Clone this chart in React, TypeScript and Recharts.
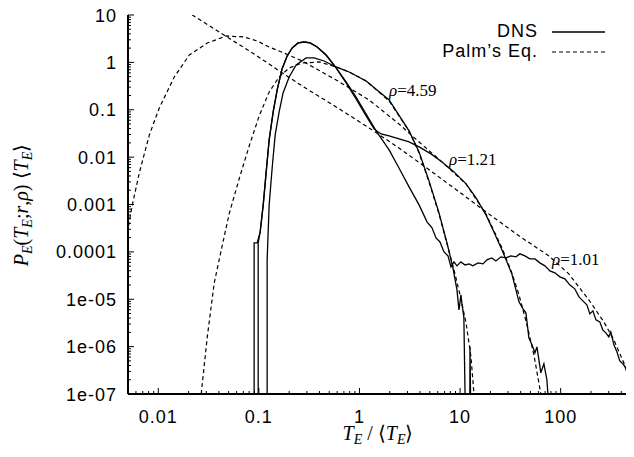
import React from 'react';
import { LineChart, Line, XAxis, YAxis, ReferenceDot } from 'recharts';

type Pt = [number, number | null];

// DNS curves (solid) as [T/<T>, P*<T>]
const dns101: Pt[] = [
  [0.0897, 1e-7], [0.0897, 1.55e-4], [0.0962, 1.55e-4], [0.103, 2.64e-4], [0.1104, 9.8e-4],
  [0.1182, 0.00488], [0.1265, 0.0231], [0.1387, 0.0899], [0.152, 0.262], [0.17, 0.726],
  [0.191, 1.365], [0.2143, 2.01], [0.2455, 2.57], [0.2818, 2.69], [0.3231, 2.57],
  [0.3793, 2.11], [0.466, 1.43], [0.586, 0.762], [0.736, 0.386], [0.925, 0.186],
  [1.164, 0.0815], [1.463, 0.0357], [1.97, 0.0142], [2.47, 0.00591], [3.11, 0.00235],
  [3.91, 9.8e-4], [4.69, 4.3e-4], [5.26, 3.21e-4], [5.76, 1.97e-4], [6.31, 1.62e-4],
  [6.92, 1.0e-4], [7.58, 8.24e-5], [8.12, 4.83e-5], [8.7, 6.15e-5], [9.31, 5.07e-5],
  [10.2, 6.15e-5], [11.2, 5.3e-5], [12.3, 5.59e-5], [13.4, 5.07e-5], [15.1, 5.86e-5],
  [16.9, 5.59e-5], [18.5, 6.77e-5], [20.7, 7.46e-5], [22.7, 6.45e-5], [25.5, 7.85e-5],
  [28.6, 7.46e-5], [32.0, 8.24e-5], [35.9, 7.85e-5], [39.3, 9.08e-5], [44.1, 8.24e-5],
  [49.4, 7.11e-5], [55.5, 7.11e-5], [62.1, 5.86e-5], [69.7, 5.07e-5], [78.2, 3.97e-5],
  [87.5, 3.61e-5], [98.2, 2.97e-5], [110, 2.69e-5], [123, 2.01e-5], [138, 1.66e-5],
  [152, 1.12e-5], [166, 9.25e-6], [182, 7.6e-6], [195, 4.92e-6], [209, 5.69e-6],
  [224, 3.67e-6], [245, 3.33e-6], [262, 2.26e-6], [281, 1.95e-6], [301, 1.61e-6],
  [315, 2.05e-6], [338, 1.09e-6], [362, 7.76e-7], [387, 5.01e-7], [415, 4.34e-7],
  [445, 3.57e-7], [476, 2.31e-7], [510, 1.56e-7],
];

const dns121: Pt[] = [
  [0.0984, 1e-7], [0.0984, 1.55e-4], [0.103, 2.64e-4], [0.1104, 9.8e-4], [0.1182, 0.00488],
  [0.1265, 0.0231], [0.1387, 0.0899], [0.152, 0.262], [0.17, 0.726], [0.191, 1.365],
  [0.2143, 2.01], [0.2455, 2.57], [0.2818, 2.69], [0.3231, 2.57], [0.3793, 2.11],
  [0.466, 1.43], [0.586, 0.762], [0.736, 0.367], [0.925, 0.169], [1.164, 0.074],
  [1.397, 0.0394], [1.64, 0.0308], [1.97, 0.028], [2.47, 0.0242], [3.11, 0.0209],
  [3.91, 0.0164], [5.14, 0.0117], [6.61, 0.00793], [8.7, 0.00488], [11.46, 0.00272],
  [14.4, 0.00138], [18.1, 6.04e-4], [21.7, 2.64e-4], [26.1, 1.1e-4], [29.2, 6.15e-5],
  [32.7, 3.44e-5], [35.9, 1.58e-5], [38.5, 8.81e-6], [42.2, 6.27e-6], [45.1, 5.16e-6],
  [48.3, 1.53e-6], [51.8, 1.09e-6], [55.5, 7.4e-7], [58.1, 9.9e-7], [63.5, 2.8e-7],
  [68.1, 4.34e-7], [72.9, 2.0e-7], [74.6, 1e-7],
];

const dns459: Pt[] = [
  [0.1208, 1e-7], [0.1208, 6.77e-5], [0.1265, 9.8e-4], [0.1355, 0.00591], [0.1452, 0.0294],
  [0.159, 0.0899], [0.174, 0.226], [0.2, 0.492], [0.2345, 0.881], [0.295, 1.24],
  [0.354, 1.24], [0.445, 1.07], [0.586, 0.8], [0.789, 0.627], [1.164, 0.405],
  [1.97, 0.161], [3.11, 0.0357], [3.91, 0.0129], [4.91, 0.00315], [6.17, 6.65e-4],
  [7.41, 1.55e-4], [8.49, 4.59e-5], [9.31, 1.58e-5], [9.75, 5.97e-6], [10.2, 1.24e-5],
  [10.4, 8.4e-6], [10.9, 4.26e-6], [11.2, 1e-7], [11.8, null], [12.5, 1e-7],
  [12.55, 1.0e-6], [12.7, 1e-7],
];

// Palm's equation (dashed)
const palm101: Pt[] = [
  [0.0144, 17.3], [0.0218, 10], [0.0484, 3.43], [0.0897, 1.5], [0.166, 0.627],
  [0.269, 0.318], [0.586, 0.1146], [1.245, 0.0413], [2.47, 0.01563], [5.26, 0.00488],
  [10.4, 0.00168], [18.1, 6.98e-4], [38.5, 2.18e-4], [76.4, 8.2e-5], [120.5, 3.43e-5],
  [190.5, 9.7e-6], [268.5, 3.33e-6], [337.5, 1.39e-6], [424.5, 4.55e-7], [521, 1.11e-7],
];

const palm121: Pt[] = [
  [0.00492, 2.52e-4], [0.00552, 9.8e-4], [0.00648, 0.00465], [0.00815, 0.0294], [0.01023, 0.109],
  [0.01442, 0.492], [0.02033, 1.43], [0.0307, 2.56], [0.0473, 3.61], [0.0714, 3.43],
  [0.0962, 2.83], [0.1265, 2.11], [0.178, 1.58], [0.269, 1.07], [0.586, 0.426],
  [1.245, 0.161], [2.47, 0.0501], [3.91, 0.0209], [6.61, 0.00793], [11.46, 0.00272],
  [18.1, 6.3e-4], [26.1, 1.21e-4], [32.7, 3.6e-5], [38.5, 1.24e-5], [46.2, 2.88e-6],
  [54.2, 6.7e-7], [63.5, 1.0e-7],
];

const palm459: Pt[] = [
  [0.0267, 1e-7], [0.0307, 1.61e-6], [0.036, 2.22e-5], [0.0423, 1.1e-4], [0.0507, 6.4e-4],
  [0.0637, 0.0035], [0.0801, 0.0172], [0.1007, 0.074], [0.1265, 0.238], [0.159, 0.492],
  [0.2, 0.762], [0.269, 0.97], [0.397, 1.02], [0.586, 0.8], [0.789, 0.627],
  [1.164, 0.405], [1.97, 0.1535], [3.11, 0.0357], [3.91, 0.01227], [4.91, 0.003],
  [6.17, 6.34e-4], [7.41, 1.48e-4], [8.7, 4.17e-5], [9.98, 1.24e-5], [11.46, 3.18e-6],
  [12.83, 6.1e-7], [13.74, 1e-7],
];

const xMajor = [0.01, 0.1, 1, 10, 100];
const xLabels = ['0.01', '0.1', '1', '10', '100'];
const yMajor = [1e-7, 1e-6, 1e-5, 1e-4, 1e-3, 0.01, 0.1, 1, 10];
const yLabels = ['1e-07', '1e-06', '1e-05', '0.0001', '0.001', '0.01', '0.1', '1', '10'];

const rhoLabels = [
  { text: '4.59', x: 1.97, y: 0.195 },
  { text: '1.21', x: 7.76, y: 0.00684 },
  { text: '1.01', x: 82, y: 5.3e-5 },
];

const xDomain: [number, number] = [0.005, 500];
const yDomain: [number, number] = [1e-7, 10];

const withMinors = (majors: number[], lo: number, hi: number) => {
  const out: number[] = [];
  [majors[0] / 10, ...majors].forEach((d) => {
    [1, 2, 3, 4, 5, 6, 7, 8, 9].forEach((m) => {
      const v = Number((d * m).toPrecision(6));
      if (v >= lo * 0.9999 && v <= hi * 1.0001) out.push(v);
    });
  });
  return out;
};

const xTicks = withMinors(xMajor, xDomain[0], xDomain[1]);
const yTicks = withMinors(yMajor, yDomain[0], yDomain[1]);

const majorIndex = (list: number[], v: number) =>
  list.findIndex((m) => Math.abs(m - v) <= m * 1e-6);

const tickFont = {
  fontFamily: '"Liberation Sans", Arial, sans-serif',
  fontSize: 18,
  letterSpacing: 1,
  fill: '#000',
};

const bottomTick = (p: any) => {
  const i = majorIndex(xMajor, p.payload.value);
  return (
    <g>
      <line x1={p.x} x2={p.x} y1={p.y} y2={p.y - (i >= 0 ? 6 : 3)} stroke="#000" />
      {i >= 0 && (
        <text x={p.x} y={p.y + 29} textAnchor="middle" {...tickFont}>
          {xLabels[i]}
        </text>
      )}
    </g>
  );
};

const topTick = (p: any) => {
  const i = majorIndex(xMajor, p.payload.value);
  return <line x1={p.x} x2={p.x} y1={p.y} y2={p.y + (i >= 0 ? 6 : 3)} stroke="#000" />;
};

const leftTick = (p: any) => {
  const i = majorIndex(yMajor, p.payload.value);
  return (
    <g>
      <line x1={p.x} x2={p.x + (i >= 0 ? 6 : 3)} y1={p.y} y2={p.y} stroke="#000" />
      {i >= 0 && (
        <text x={p.x - 11} y={p.y + 6.5} textAnchor="end" {...tickFont}>
          {yLabels[i]}
        </text>
      )}
    </g>
  );
};

const rightTick = (p: any) => {
  const i = majorIndex(yMajor, p.payload.value);
  return <line x1={p.x} x2={p.x - (i >= 0 ? 6 : 3)} y1={p.y} y2={p.y} stroke="#000" />;
};

const rows = (pts: Pt[]) => pts.map(([x, y]) => ({ x, y }));

const serif = '"Liberation Serif", "Times New Roman", serif';

const RhoLabel = ({ viewBox, text }: any) => (
  <text x={viewBox.x} y={viewBox.y} fontFamily={serif} fontSize={17} fill="#000">
    <tspan fontStyle="italic">ρ</tspan>={text}
  </text>
);

const dnsSeries = [dns101, dns121, dns459];
const palmSeries = [palm101, palm121, palm459];

export default function App() {
  return (
    <div style={{ position: 'relative', width: 634, height: 457, margin: '-8px 0 0 -8px' }}>
      <LineChart width={634} height={457} margin={{ top: 15, right: 3, bottom: 0, left: 0 }}>
        <XAxis
          xAxisId="b"
          dataKey="x"
          type="number"
          scale="log"
          domain={xDomain}
          allowDataOverflow
          ticks={xTicks}
          interval={0}
          height={63}
          tickSize={0}
          tickMargin={0}
          tickLine={false}
          tick={bottomTick}
          axisLine={{ stroke: '#000', strokeWidth: 2 }}
        />
        <XAxis
          xAxisId="t"
          dataKey="x"
          orientation="top"
          type="number"
          scale="log"
          domain={xDomain}
          allowDataOverflow
          ticks={xTicks}
          interval={0}
          height={0}
          tickSize={0}
          tickMargin={0}
          tickLine={false}
          tick={topTick}
          axisLine={{ stroke: '#000', strokeWidth: 2 }}
        />
        <YAxis
          yAxisId="l"
          type="number"
          scale="log"
          domain={yDomain}
          allowDataOverflow
          ticks={yTicks}
          interval={0}
          width={128}
          tickSize={0}
          tickMargin={0}
          tickLine={false}
          tick={leftTick}
          axisLine={{ stroke: '#000', strokeWidth: 2 }}
        />
        <YAxis
          yAxisId="r"
          orientation="right"
          type="number"
          scale="log"
          domain={yDomain}
          allowDataOverflow
          ticks={yTicks}
          interval={0}
          width={0}
          tickSize={0}
          tickMargin={0}
          tickLine={false}
          tick={rightTick}
          axisLine={{ stroke: '#000', strokeWidth: 2 }}
        />
        {palmSeries.map((s, i) => (
          <Line
            key={'palm' + i}
            data={rows(s)}
            dataKey="y"
            xAxisId="b"
            yAxisId="l"
            type="linear"
            stroke="#000"
            strokeWidth={1.2}
            strokeDasharray="4 3"
            dot={false}
            isAnimationActive={false}
          />
        ))}
        {dnsSeries.map((s, i) => (
          <Line
            key={'dns' + i}
            data={rows(s)}
            dataKey="y"
            xAxisId="b"
            yAxisId="l"
            type="linear"
            stroke="#000"
            strokeWidth={1.3}
            dot={false}
            connectNulls={false}
            isAnimationActive={false}
          />
        ))}
        {rhoLabels.map((l) => (
          <ReferenceDot
            key={l.text}
            x={l.x}
            y={l.y}
            r={0}
            xAxisId="b"
            yAxisId="l"
            fill="none"
            stroke="none"
            label={{ content: (p: any) => <RhoLabel viewBox={p.viewBox} text={l.text} /> }}
          />
        ))}
      </LineChart>
      <svg
        width={634}
        height={457}
        style={{ position: 'absolute', left: 0, top: 0, pointerEvents: 'none' }}
      >
        <text x={538} y={37} textAnchor="end" {...tickFont}>DNS</text>
        <line x1={552} x2={605} y1={32} y2={32} stroke="#000" strokeWidth={1.3} />
        <text x={538} y={57} textAnchor="end" {...tickFont}>Palm’s Eq.</text>
        <line x1={552} x2={605} y1={52} y2={52} stroke="#000" strokeWidth={1.2} strokeDasharray="4 3" />
        <text x={378} y={440} textAnchor="middle" fontFamily={serif} fontSize={20} fill="#000">
          <tspan fontStyle="italic">T</tspan>
          <tspan fontStyle="italic" fontSize={14} dy={4}>E</tspan>
          <tspan dy={-4}> / ⟨</tspan>
          <tspan fontStyle="italic">T</tspan>
          <tspan fontStyle="italic" fontSize={14} dy={4}>E</tspan>
          <tspan dy={-4}>⟩</tspan>
        </text>
        <text
          x={28}
          y={205}
          transform="rotate(-90 28 205)"
          textAnchor="middle"
          fontFamily={serif}
          fontSize={20}
          fill="#000"
        >
          <tspan fontStyle="italic">P</tspan>
          <tspan fontStyle="italic" fontSize={14} dy={4}>E</tspan>
          <tspan dy={-4}>(</tspan>
          <tspan fontStyle="italic">T</tspan>
          <tspan fontStyle="italic" fontSize={14} dy={4}>E</tspan>
          <tspan dy={-4}>;</tspan>
          <tspan fontStyle="italic">r</tspan>
          <tspan>,</tspan>
          <tspan fontStyle="italic">ρ</tspan>
          <tspan>) ⟨</tspan>
          <tspan fontStyle="italic">T</tspan>
          <tspan fontStyle="italic" fontSize={14} dy={4}>E</tspan>
          <tspan dy={-4}>⟩</tspan>
        </text>
      </svg>
    </div>
  );
}
